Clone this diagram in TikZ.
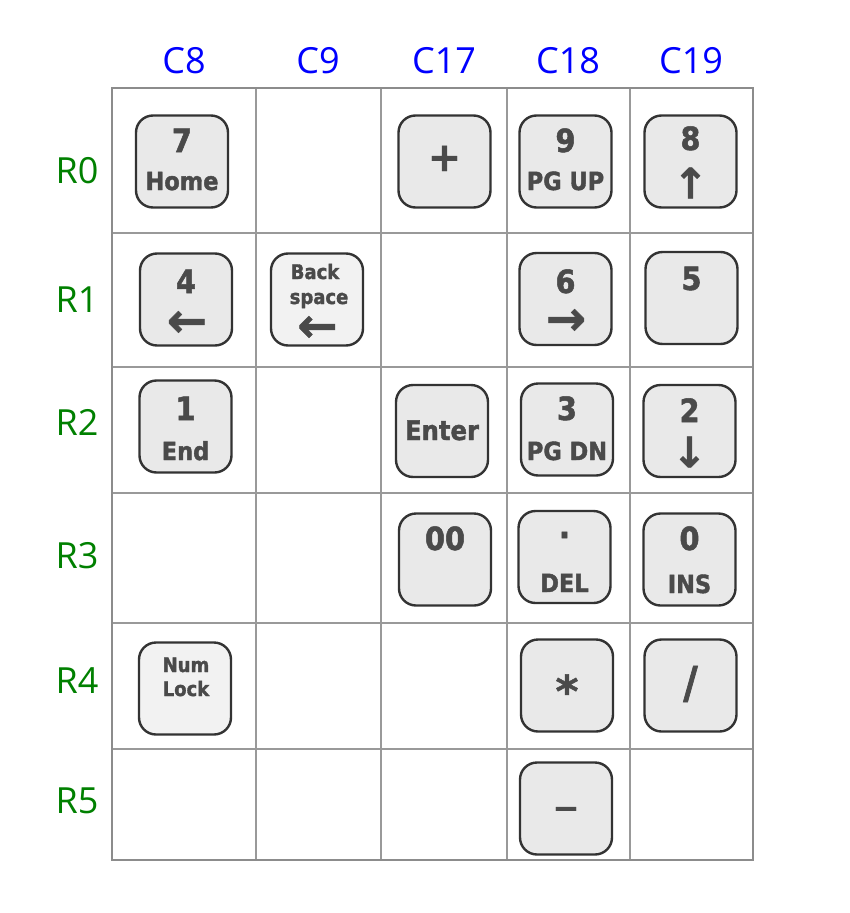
\documentclass[tikz,border=0pt]{standalone}
\usepackage{fontspec}
\newfontfamily\keyfont{DejaVu Sans Condensed}[BoldFeatures={FakeBold=1.6}]
\newfontfamily\arrowfont{DejaVu Sans}[BoldFeatures={FakeBold=1}]
\newfontfamily\labelfont{Open Sans}
\definecolor{keyfill}{HTML}{E9E9E9}
\definecolor{keylight}{HTML}{F2F2F2}
\definecolor{keyedge}{HTML}{333333}
\definecolor{keytext}{HTML}{4A4A4A}
\definecolor{gridline}{HTML}{999999}
\definecolor{colblue}{HTML}{0000FF}
\definecolor{rowgreen}{HTML}{008000}
\tikzset{
  keycap/.style={draw=keyedge, fill=keyfill, line width=2.4pt, rounded corners=17pt,
    minimum width=92pt, minimum height=92pt, inner sep=0pt},
  lightcap/.style={keycap, fill=keylight},
  big/.style={font=\keyfont\bfseries\fontsize{32}{32}\selectfont, text=keytext, inner sep=0pt, anchor=base},
  small/.style={font=\keyfont\bfseries\fontsize{25}{25}\selectfont, text=keytext, inner sep=0pt, anchor=base},
  tiny/.style={font=\keyfont\bfseries\fontsize{20}{20}\selectfont, text=keytext, inner sep=0pt, anchor=base},
  sign/.style={font=\arrowfont\bfseries\fontsize{#1}{#1}\selectfont, text=keytext, inner sep=0pt, anchor=base},
  vglyph/.style={font=\arrowfont\bfseries\fontsize{42}{42}\selectfont, text=keytext, inner sep=0pt},
  hglyph/.style={font=\arrowfont\bfseries\fontsize{48}{48}\selectfont, text=keytext, inner sep=0pt, anchor=base},
  collabel/.style={font=\labelfont\fontsize{36}{36}\selectfont, text=colblue, inner sep=0pt, anchor=base},
  rowlabel/.style={font=\labelfont\fontsize{36}{36}\selectfont, text=rowgreen, inner sep=0pt, anchor=base},
}

\begin{document}
\begin{tikzpicture}[x=1pt, y=-1pt]
  \useasboundingbox (0,0) rectangle (850,913);
  % Grille
  \foreach \x in {256,381,507,630}
    \draw[gridline, line width=1.8pt] (\x,88) -- (\x,860);
  \foreach \y in {233,367,493,623,749}
    \draw[gridline, line width=1.8pt] (112,\y) -- (753,\y);
  \draw[gray!110!black, line width=2pt] (112,88) rectangle (753,860);
  % Colonnes et lignes
  \node[collabel] (c8) at (184,73) {C8};
  \node[collabel] (c9) at (318,73) {C9};
  \node[collabel] (c17) at (444,73) {C17};
  \node[collabel] (c18) at (568,73) {C18};
  \node[collabel] (c19) at (691,73) {C19};
  \node[rowlabel] (r0) at (77,183) {R0};
  \node[rowlabel] (r1) at (77,312) {R1};
  \node[rowlabel] (r2) at (77,435) {R2};
  \node[rowlabel] (r3) at (77,568) {R3};
  \node[rowlabel] (r4) at (77,693) {R4};
  \node[rowlabel] (r5) at (77,813) {R5};
  % Touches R0
  \node[keycap] (k7) at (182,161.5) {};
  \node[big] (k7-a) at (182,152) {7};
  \node[small] (k7-b) at (182,190) {Home};
  \node[keycap] (kplus) at (444.5,161.5) {};
  \node[sign=40] (kplus-a) at (444.5,171) {+};
  \node[keycap] (k9) at (565.5,161.5) {};
  \node[big] (k9-a) at (565.5,152) {9};
  \node[small] (k9-b) at (565.5,190) {PG UP};
  \node[keycap] (k8) at (690.5,161.5) {};
  \node[big] (k8-a) at (690.5,150) {8};
  \node[vglyph] (k8-b) at (690.5,183) {↑};
  % Touches R1
  \node[keycap] (k4) at (186,299.5) {};
  \node[big] (k4-a) at (186,293) {4};
  \node[hglyph] (k4-b) at (187,337) {\smash{←}};
  \node[lightcap] (kbs) at (317,299.5) {};
  \node[tiny] (kbs-a) at (315,279) {Back};
  \node[tiny] (kbs-b) at (319,304) {space};
  \node[hglyph] (kbs-c) at (317.5,342) {\smash{←}};
  \node[keycap] (k6) at (565.5,299) {};
  \node[big] (k6-a) at (565.5,293) {6};
  \node[hglyph] (k6-b) at (566,335) {\smash{→}};
  \node[keycap] (k5) at (691.5,298) {};
  \node[big] (k5-a) at (691.5,290) {5};
  % Touches R2
  \node[keycap] (k1) at (185.5,426.5) {};
  \node[big] (k1-a) at (185.5,420) {1};
  \node[small] (k1-b) at (185.5,460) {End};
  \node[keycap] (kenter) at (442,431) {};
  \node[small, font=\keyfont\bfseries\fontsize{27}{27}\selectfont] (kenter-a) at (442,440) {Enter};
  \node[keycap] (k3) at (567,429.5) {};
  \node[big] (k3-a) at (567,420) {3};
  \node[small] (k3-b) at (567,460) {PG DN};
  \node[keycap] (k2) at (689.5,431) {};
  \node[big] (k2-a) at (689.5,422) {2};
  \node[vglyph] (k2-b) at (689.5,452) {↓};
  % Touches R3
  \node[keycap] (k00) at (445,559.5) {};
  \node[big] (k00-a) at (445,550) {00};
  \node[keycap] (kdel) at (564.5,557) {};
  \node[big] (kdel-a) at (564.5,538) {.};
  \node[small] (kdel-b) at (564.5,592) {DEL};
  \node[keycap] (k0) at (689.5,559.5) {};
  \node[big] (k0-a) at (689.5,550) {0};
  \node[small] (k0-b) at (689.5,593) {INS};
  % Touches R4 et R5
  \node[lightcap] (knum) at (185,688.5) {};
  \node[tiny] (knum-a) at (186,672) {Num};
  \node[tiny] (knum-b) at (186,696) {Lock};
  \node[keycap] (kstar) at (567,685.5) {};
  \node[sign=44] (kstar-a) at (567,707) {*};
  \node[keycap] (kslash) at (690.5,685.5) {};
  \node[big, font=\keyfont\bfseries\fontsize{44}{44}\selectfont] (kslash-a) at (690.5,698) {/};
  \node[keycap] (kminus) at (566,808.5) {};
  \node[sign=32] (kminus-a) at (566,819) {−};
\end{tikzpicture}
\end{document}
